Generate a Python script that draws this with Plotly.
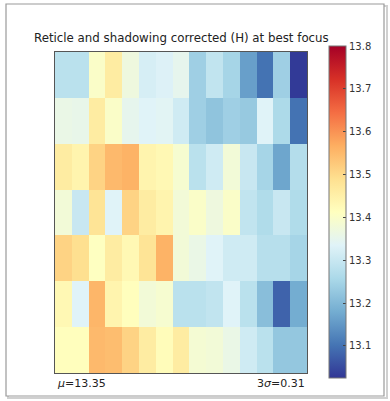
import plotly.graph_objects as go

# Field columns / rows (top row first)
cols = list(range(15))
rows = list(range(7))

row0 = [13.28, 13.28, 13.40, 13.46, 13.37, 13.32, 13.33, 13.35, 13.24, 13.29, 13.25, 13.16, 13.10, 13.24, 13.03]
row1 = [13.36, 13.355, 13.46, 13.40, 13.35, 13.335, 13.34, 13.31, 13.24, 13.22, 13.24, 13.23, 13.335, 13.26, 13.10]
row2 = [13.46, 13.44, 13.51, 13.55, 13.56, 13.44, 13.43, 13.39, 13.28, 13.31, 13.38, 13.30, 13.25, 13.17, 13.27]
row3 = [13.38, 13.30, 13.48, 13.335, 13.51, 13.46, 13.44, 13.38, 13.40, 13.37, 13.40, 13.29, 13.265, 13.30, 13.265]
row4 = [13.51, 13.49, 13.41, 13.46, 13.43, 13.48, 13.56, 13.38, 13.36, 13.335, 13.31, 13.31, 13.275, 13.275, 13.25]
row5 = [13.43, 13.335, 13.555, 13.44, 13.415, 13.38, 13.39, 13.28, 13.28, 13.29, 13.335, 13.28, 13.21, 13.08, 13.18]
row6 = [13.415, 13.415, 13.55, 13.545, 13.51, 13.46, 13.42, 13.46, 13.385, 13.38, 13.36, 13.31, 13.28, 13.225, 13.225]
z = [row0, row1, row2, row3, row4, row5, row6]

cbar_ticks = [13.1, 13.2, 13.3, 13.4, 13.5, 13.6, 13.7, 13.8]
title_text = "Reticle and shadowing corrected (H) at best focus"
mu_text = "<i>μ</i>=13.35"
sigma_text = "3<i>σ</i>=0.31"

W, H = 390, 401
L, R, T, B = 55, 83, 52, 28
pw, ph = W - L - R, H - T - B

def px_x(x):
    return (x - L) / pw

def px_y(y):
    return (H - B - y) / ph

fig = go.Figure(go.Heatmap(
    z=z, x=cols, y=rows,
    colorscale="RdYlBu", reversescale=True,
    zmin=13.025, zmax=13.8,
    xgap=0, ygap=0,
    colorbar=dict(
        x=px_x(329), xanchor="left", xref="paper",
        y=(px_y(46) + px_y(378)) / 2, yanchor="middle",
        len=(378 - 46) / ph, lenmode="fraction",
        thickness=17, thicknessmode="pixels",
        outlinecolor="#777", outlinewidth=1,
        tickvals=cbar_ticks, ticktext=[f"{t:.1f}" for t in cbar_ticks],
        ticks="inside", ticklen=3, tickcolor="#444",
        tickfont=dict(size=10, color="#333", family="DejaVu Sans"),
        ypad=0, xpad=0,
    ),
))

fig.update_xaxes(showticklabels=False, ticks="", showgrid=False, zeroline=False,
                 showline=True, linecolor="#555", linewidth=1, mirror=True,
                 range=[-0.5, 14.5])
fig.update_yaxes(showticklabels=False, ticks="", showgrid=False, zeroline=False,
                 showline=True, linecolor="#555", linewidth=1, mirror=True,
                 autorange="reversed")

shapes = [
    dict(type="rect", xref="paper", yref="paper",
         x0=px_x(8), x1=px_x(387), y0=px_y(398), y1=px_y(6),
         line=dict(color="#d0d0d0", width=2), layer="below"),
    dict(type="rect", xref="paper", yref="paper",
         x0=px_x(6), x1=px_x(384), y0=px_y(396), y1=px_y(4),
         line=dict(color="#9a9a9a", width=1.2), fillcolor="white", layer="below"),
]

annotations = [
    dict(text=title_text, xref="paper", yref="paper", x=0.5, y=px_y(38),
         xanchor="center", yanchor="middle", showarrow=False,
         font=dict(size=11.8, color="#222", family="DejaVu Sans")),
    dict(text=mu_text, xref="paper", yref="paper", x=0, y=px_y(383),
         xanchor="left", yanchor="middle", showarrow=False,
         font=dict(size=11, color="#222", family="DejaVu Sans")),
    dict(text=sigma_text, xref="paper", yref="paper", x=1, y=px_y(383),
         xanchor="right", yanchor="middle", showarrow=False,
         font=dict(size=11, color="#222", family="DejaVu Sans")),
]

fig.update_layout(
    width=W, height=H,
    margin=dict(l=L, r=R, t=T, b=B),
    paper_bgcolor="white", plot_bgcolor="white",
    shapes=shapes, annotations=annotations,
    font=dict(family="DejaVu Sans"),
)

fig.write_html("out.html")
